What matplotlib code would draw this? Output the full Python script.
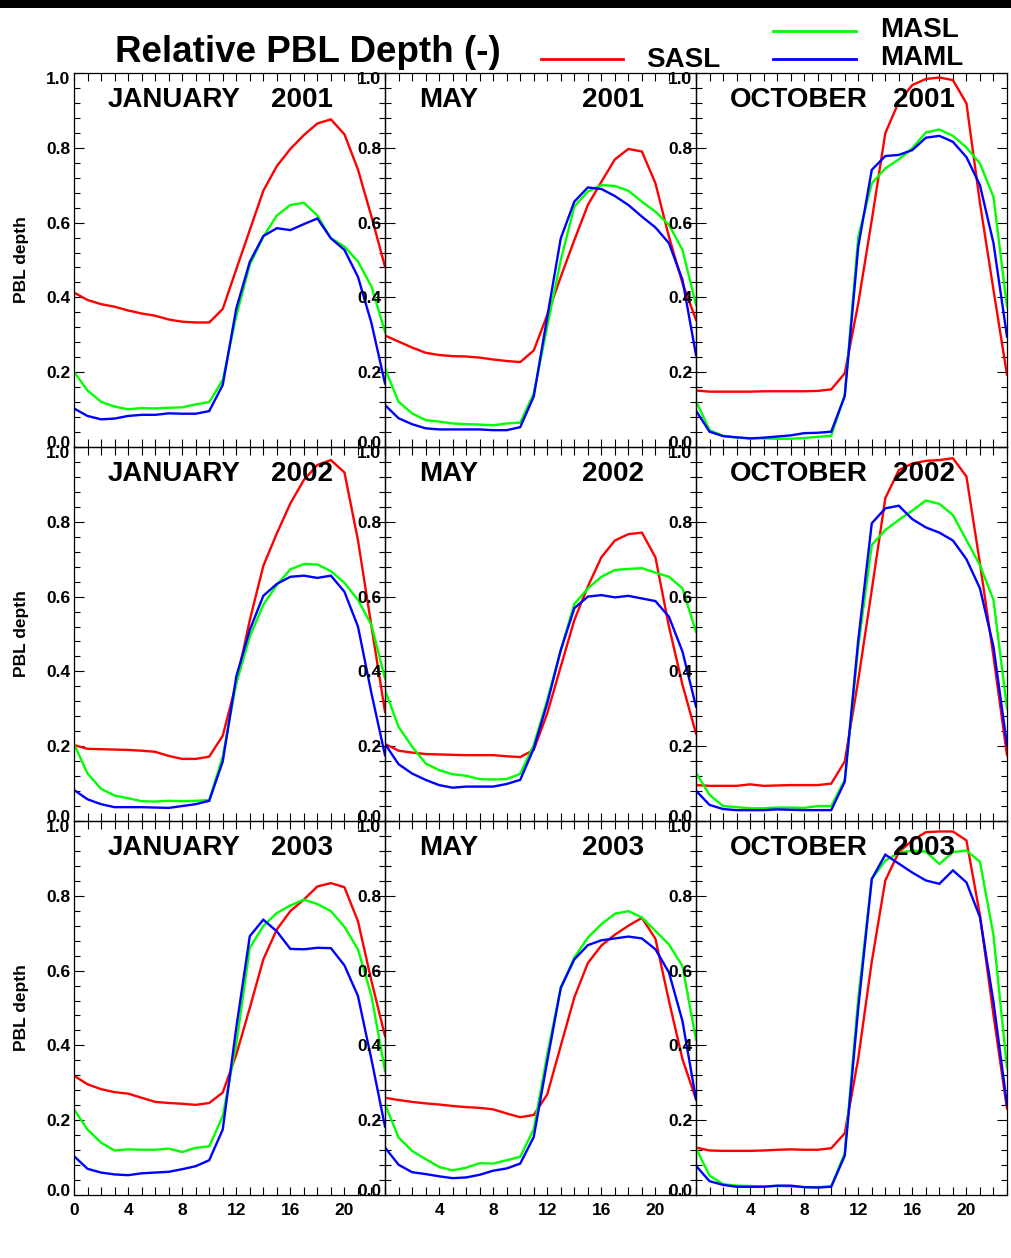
import matplotlib
matplotlib.use("Agg")
import matplotlib.pyplot as plt
from matplotlib.lines import Line2D
from matplotlib.patches import Rectangle
from matplotlib.ticker import MultipleLocator, FixedLocator
from matplotlib.transforms import ScaledTranslation

plt.rcParams['font.family'] = ['Liberation Sans', 'DejaVu Sans']
plt.rcParams['font.weight'] = 'bold'

hours = list(range(24))
months = ["JANUARY", "MAY", "OCTOBER"]
years = ["2001", "2002", "2003"]
series_names = ["SASL", "MASL", "MAML"]
series_colors = ["#ff0000", "#00ff00", "#0000ff"]
ytick_vals = [0.0, 0.2, 0.4, 0.6, 0.8, 1.0]
ytick_labels = ["0.0", "0.2", "0.4", "0.6", "0.8", "1.0"]
xtick_first = [0, 4, 8, 12, 16, 20]
xtick_other = [4, 8, 12, 16, 20]

# ---- 2001 ----
sasl_jan_2001 = [0.413,0.393,0.382,0.375,0.365,0.357,0.351,0.341,0.335,0.333,0.333,0.369,0.475,0.580,0.685,0.751,0.797,0.834,0.865,0.876,0.836,0.742,0.616,0.482]
masl_jan_2001 = [0.201,0.151,0.121,0.108,0.101,0.104,0.103,0.105,0.106,0.114,0.120,0.179,0.350,0.487,0.562,0.619,0.647,0.653,0.619,0.558,0.536,0.496,0.429,0.308]
maml_jan_2001 = [0.103,0.083,0.074,0.076,0.083,0.086,0.086,0.090,0.089,0.089,0.096,0.166,0.370,0.495,0.564,0.585,0.580,0.596,0.611,0.558,0.527,0.455,0.331,0.170]

sasl_may_2001 = [0.298,0.282,0.266,0.252,0.246,0.243,0.242,0.239,0.234,0.230,0.227,0.258,0.353,0.455,0.553,0.647,0.709,0.769,0.797,0.790,0.705,0.562,0.438,0.340]
masl_may_2001 = [0.210,0.121,0.090,0.072,0.068,0.063,0.061,0.060,0.058,0.063,0.065,0.143,0.322,0.500,0.643,0.683,0.700,0.698,0.685,0.656,0.629,0.594,0.527,0.380]
maml_may_2001 = [0.112,0.077,0.061,0.050,0.047,0.047,0.047,0.047,0.045,0.045,0.053,0.135,0.348,0.558,0.656,0.694,0.690,0.671,0.647,0.616,0.587,0.545,0.447,0.246]

sasl_oct_2001 = [0.151,0.148,0.148,0.148,0.148,0.149,0.149,0.149,0.149,0.150,0.154,0.197,0.384,0.607,0.839,0.923,0.968,0.984,0.988,0.981,0.919,0.652,0.420,0.193]
masl_oct_2001 = [0.123,0.045,0.030,0.025,0.023,0.023,0.022,0.022,0.024,0.027,0.030,0.139,0.562,0.705,0.745,0.769,0.799,0.841,0.849,0.832,0.801,0.758,0.669,0.375]
maml_oct_2001 = [0.097,0.041,0.029,0.026,0.023,0.025,0.028,0.031,0.037,0.038,0.041,0.136,0.536,0.741,0.778,0.781,0.794,0.827,0.832,0.816,0.775,0.700,0.545,0.295]

# ---- 2002 ----
sasl_jan_2002 = [0.203,0.193,0.192,0.191,0.190,0.188,0.185,0.174,0.166,0.166,0.172,0.228,0.368,0.537,0.682,0.769,0.849,0.912,0.952,0.965,0.932,0.751,0.520,0.292]
masl_jan_2002 = [0.206,0.127,0.086,0.068,0.061,0.053,0.052,0.054,0.053,0.054,0.056,0.172,0.368,0.493,0.578,0.631,0.673,0.687,0.686,0.668,0.637,0.591,0.524,0.381]
maml_jan_2002 = [0.083,0.058,0.045,0.037,0.037,0.037,0.036,0.035,0.040,0.045,0.054,0.159,0.386,0.511,0.602,0.634,0.653,0.656,0.650,0.656,0.613,0.520,0.341,0.176]

sasl_may_2002 = [0.206,0.188,0.183,0.179,0.178,0.177,0.176,0.176,0.176,0.173,0.171,0.190,0.288,0.413,0.537,0.627,0.705,0.750,0.767,0.771,0.705,0.520,0.364,0.234]
masl_may_2002 = [0.350,0.252,0.199,0.154,0.136,0.125,0.121,0.112,0.111,0.112,0.126,0.203,0.324,0.457,0.580,0.622,0.653,0.671,0.674,0.676,0.664,0.653,0.622,0.506]
maml_may_2002 = [0.206,0.152,0.127,0.110,0.096,0.089,0.092,0.092,0.092,0.099,0.110,0.194,0.315,0.457,0.569,0.600,0.604,0.598,0.602,0.595,0.588,0.546,0.453,0.306]

sasl_oct_2002 = [0.096,0.094,0.094,0.094,0.098,0.094,0.095,0.096,0.096,0.096,0.100,0.159,0.377,0.618,0.863,0.938,0.956,0.963,0.965,0.970,0.921,0.689,0.440,0.176]
masl_oct_2002 = [0.129,0.070,0.040,0.037,0.034,0.034,0.036,0.036,0.035,0.040,0.040,0.110,0.466,0.738,0.778,0.805,0.830,0.857,0.848,0.818,0.751,0.684,0.591,0.301]
maml_oct_2002 = [0.081,0.043,0.032,0.029,0.029,0.029,0.031,0.030,0.029,0.029,0.029,0.105,0.484,0.796,0.836,0.843,0.807,0.785,0.771,0.750,0.700,0.622,0.466,0.203]

# ---- 2003 ----
sasl_jan_2003 = [0.319,0.296,0.283,0.275,0.271,0.260,0.249,0.246,0.244,0.241,0.246,0.274,0.375,0.500,0.630,0.710,0.759,0.790,0.825,0.834,0.823,0.732,0.572,0.425]
masl_jan_2003 = [0.229,0.175,0.140,0.119,0.122,0.121,0.121,0.124,0.115,0.126,0.130,0.211,0.403,0.661,0.719,0.754,0.774,0.790,0.778,0.759,0.717,0.657,0.532,0.332]
maml_jan_2003 = [0.104,0.070,0.060,0.055,0.053,0.058,0.060,0.062,0.069,0.077,0.093,0.175,0.447,0.692,0.736,0.705,0.658,0.657,0.661,0.660,0.614,0.532,0.362,0.183]

sasl_may_2003 = [0.260,0.254,0.249,0.245,0.242,0.238,0.235,0.233,0.229,0.218,0.208,0.214,0.269,0.399,0.528,0.620,0.667,0.696,0.720,0.741,0.685,0.519,0.363,0.256]
masl_may_2003 = [0.243,0.154,0.118,0.096,0.075,0.066,0.073,0.085,0.084,0.093,0.102,0.176,0.376,0.554,0.635,0.688,0.724,0.752,0.759,0.742,0.706,0.670,0.612,0.416]
maml_may_2003 = [0.127,0.081,0.061,0.056,0.050,0.045,0.047,0.054,0.065,0.071,0.084,0.155,0.358,0.554,0.630,0.668,0.681,0.686,0.691,0.686,0.657,0.595,0.465,0.256]

sasl_oct_2003 = [0.127,0.119,0.118,0.118,0.118,0.119,0.121,0.122,0.121,0.121,0.125,0.165,0.365,0.624,0.841,0.917,0.948,0.970,0.972,0.972,0.948,0.748,0.481,0.231]
masl_oct_2003 = [0.125,0.052,0.029,0.025,0.024,0.023,0.024,0.023,0.021,0.021,0.023,0.112,0.526,0.845,0.894,0.915,0.921,0.918,0.885,0.917,0.921,0.891,0.695,0.339]
maml_oct_2003 = [0.078,0.037,0.027,0.022,0.022,0.022,0.025,0.025,0.021,0.020,0.022,0.105,0.500,0.845,0.910,0.886,0.862,0.841,0.832,0.868,0.836,0.743,0.516,0.241]

# table: rows = years, cols = months, each entry = (SASL, MASL, MAML)
table = [
    [(sasl_jan_2001, masl_jan_2001, maml_jan_2001),
     (sasl_may_2001, masl_may_2001, maml_may_2001),
     (sasl_oct_2001, masl_oct_2001, maml_oct_2001)],
    [(sasl_jan_2002, masl_jan_2002, maml_jan_2002),
     (sasl_may_2002, masl_may_2002, maml_may_2002),
     (sasl_oct_2002, masl_oct_2002, maml_oct_2002)],
    [(sasl_jan_2003, masl_jan_2003, maml_jan_2003),
     (sasl_may_2003, masl_may_2003, maml_may_2003),
     (sasl_oct_2003, masl_oct_2003, maml_oct_2003)],
]

W, H = 1012, 1258
fig = plt.figure(figsize=(W / 100, H / 100), dpi=100)
fig.patch.set_facecolor("white")

# black bar at top
fig.add_artist(Rectangle((0, 1 - 8 / H), 1, 8 / H, transform=fig.transFigure,
                         facecolor="black", edgecolor="none"))

col_left = [74, 385, 696]
col_w = 311
row_top = [73, 447, 821]
row_h = 374

shift_down = ScaledTranslation(0, -0.05, fig.dpi_scale_trans)
shift_up = ScaledTranslation(0, 0.045, fig.dpi_scale_trans)

for r in range(3):
    for c in range(3):
        ax = fig.add_axes([col_left[c] / W, 1 - (row_top[r] + row_h) / H,
                           col_w / W, row_h / H])
        ax.patch.set_alpha(0)
        for s, color, vals in zip(series_names, series_colors, table[r][c]):
            ax.plot(hours, vals, color=color, lw=1.7, solid_joinstyle="miter")
        ax.set_xlim(0, 23)
        ax.set_ylim(0, 1)
        ax.yaxis.set_major_locator(FixedLocator(ytick_vals))
        ax.set_yticklabels(ytick_labels)
        ax.yaxis.set_minor_locator(MultipleLocator(0.04))
        if r == 2:
            xt = xtick_first if c == 0 else xtick_other
            ax.xaxis.set_major_locator(FixedLocator(xt))
            ax.set_xticklabels([str(v) for v in xt])
        else:
            ax.xaxis.set_major_locator(FixedLocator(xtick_first))
            ax.set_xticklabels([])
        ax.xaxis.set_minor_locator(MultipleLocator(1))
        ax.tick_params(axis="x", which="both", direction="in", top=True,
                       length=5.5, width=0.8, labelsize=12.5, pad=6)
        ax.tick_params(axis="y", which="major", direction="in", right=True,
                       length=7, width=0.8, labelsize=12.5, pad=2.5)
        ax.tick_params(axis="y", which="minor", direction="in", right=True,
                       length=4, width=0.8)
        for lab in ax.get_xticklabels() + ax.get_yticklabels():
            lab.set_fontweight("bold")
        # IDL-style nudging of the end labels
        for tick, txt in zip(ax.yaxis.get_major_ticks(), ytick_labels):
            if txt == "1.0":
                tick.label1.set_transform(tick.label1.get_transform() + shift_down)
            elif txt == "0.0":
                tick.label1.set_transform(tick.label1.get_transform() + shift_up)
        for sp in ax.spines.values():
            sp.set_linewidth(0.9)
        ax.text(0.109, 0.908, months[c], transform=ax.transAxes,
                fontsize=20, fontweight="bold", ha="left", va="baseline")
        ax.text(0.633, 0.908, years[r], transform=ax.transAxes,
                fontsize=20, fontweight="bold", ha="left", va="baseline")
    fig.text(22 / W, 1 - (row_top[r] + row_h / 2) / H, "PBL depth",
             rotation=90, ha="center", va="center", fontsize=12.5,
             fontweight="bold")

# title
fig.text(115 / W, 1 - 62 / H, "Relative PBL Depth (-)", fontsize=26.5,
         fontweight="bold", ha="left", va="baseline")

# legend
leg_items = [
    (541, 623, 59, 646, 67, 0),
    (773, 856, 31, 880, 37, 1),
    (773, 856, 59, 880, 65, 2),
]
for x0, x1, yl, xt, yt, i in leg_items:
    fig.add_artist(Line2D([x0 / W, x1 / W], [1 - yl / H, 1 - yl / H],
                          transform=fig.transFigure, color=series_colors[i],
                          lw=2.0))
    fig.text(xt / W, 1 - yt / H, series_names[i], fontsize=20,
             fontweight="bold", ha="left", va="baseline")

fig.savefig("out.png", dpi=100, facecolor="white")
